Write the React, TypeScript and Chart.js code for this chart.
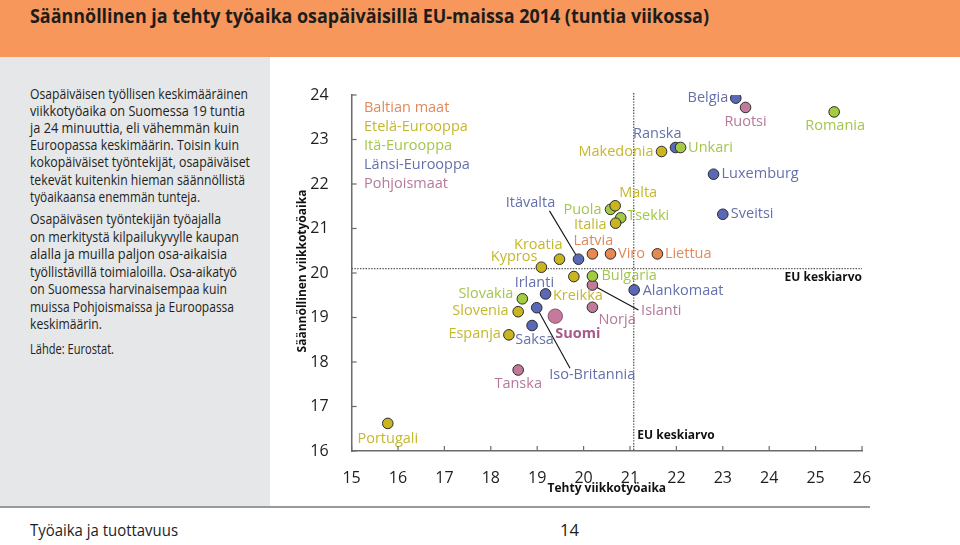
import React, { useEffect, useLayoutEffect, useRef } from "react";
import { Chart, registerables } from "chart.js";

Chart.register(...registerables);

const FONT = "'Open Sans', Lato, sans-serif";

// ---- Data (x = tehty viikkotyöaika, y = säännöllinen viikkotyöaika) ----
const groupLabels = ["Baltian maat", "Etelä-Eurooppa", "Itä-Eurooppa", "Länsi-Eurooppa", "Pohjoismaat"];

const balticNames = ["Latvia", "Viro", "Liettua"];
const balticActual = [20.19, 20.58, 21.59];
const balticRegular = [20.43, 20.43, 20.43];

const southNames = ["Makedonia", "Malta", "Italia", "Kroatia", "Kypros", "Kreikka", "Slovenia", "Espanja", "Portugali"];
const southActual = [21.68, 20.68, 20.69, 19.48, 19.09, 19.79, 18.59, 18.39, 15.78];
const southRegular = [22.73, 21.51, 21.12, 20.31, 20.13, 19.92, 19.13, 18.61, 16.62];

const eastNames = ["Romania", "Unkari", "Puola", "Tsekki", "Bulgaria", "Slovakia"];
const eastActual = [25.4, 22.09, 20.58, 20.8, 20.19, 18.68];
const eastRegular = [23.62, 22.82, 21.43, 21.24, 19.93, 19.42];

const westNames = ["Belgia", "Ranska", "Luxemburg", "Sveitsi", "Itävalta", "Alankomaat", "Irlanti", "Iso-Britannia", "Saksa"];
const westActual = [23.28, 21.98, 22.8, 23.0, 19.89, 21.09, 19.18, 18.99, 18.89];
const westRegular = [23.93, 22.82, 22.22, 21.32, 20.31, 19.62, 19.53, 19.22, 18.82];

const nordicNames = ["Ruotsi", "Islanti", "Norja", "Suomi", "Tanska"];
const nordicActual = [23.49, 20.19, 20.19, 19.39, 18.59];
const nordicRegular = [23.72, 19.73, 19.23, 19.03, 17.82];

const euAvgActual = 21.08;
const euAvgRegular = 20.1;
const euLabel = "EU keskiarvo";

const xTicks = [15, 16, 17, 18, 19, 20, 21, 22, 23, 24, 25, 26];
const yTicks = [16, 17, 18, 19, 20, 21, 22, 23, 24];

const xTitle = "Tehty viikkotyöaika";
const yTitle = "Säännöllinen viikkotyöaika";
const highlight = "Suomi";

// ---- Styles ----
const fills = ["#E8874F", "#C9B51F", "#A2CC41", "#5A68B8", "#C27A9A"];
const textColors = ["#E08A5C", "#C4B82C", "#A3C64E", "#6670AA", "#B5789A"];

type Align = "left" | "right" | "center";
// label offsets relative to the point [dx, dy, align]
const labelPos: Record<string, [number, number, Align]> = {
  Latvia: [1, -13, "center"],
  Viro: [7.5, 0.5, "left"],
  Liettua: [7.5, 0.5, "left"],
  Makedonia: [-8, 0, "right"],
  Malta: [23, -13, "center"],
  Italia: [-9, 1.5, "right"],
  Kroatia: [3, -14, "right"],
  Kypros: [-4, -10.5, "right"],
  Kreikka: [4, 19.5, "center"],
  Slovenia: [-9.5, -0.5, "right"],
  Espanja: [-8, -0.5, "right"],
  Portugali: [0, 15, "center"],
  Romania: [1, 13.5, "center"],
  Unkari: [7.5, 0, "left"],
  Puola: [-9, 0.5, "right"],
  Tsekki: [6.5, -1.5, "left"],
  Bulgaria: [9, -0.5, "left"],
  Slovakia: [-9, -5, "right"],
  Belgia: [-7.5, 0, "right"],
  Ranska: [6, -14, "right"],
  Luxemburg: [8, 0, "left"],
  Sveitsi: [8, 0, "left"],
  Itävalta: [-48, -56, "center"],
  Alankomaat: [8.5, 1, "left"],
  Irlanti: [8.5, -11.5, "right"],
  "Iso-Britannia": [55.5, 66.7, "center"],
  Saksa: [2.5, 14.7, "center"],
  Ruotsi: [0, 14.3, "center"],
  Islanti: [48.7, 26, "left"],
  Norja: [6, 12.7, "left"],
  Suomi: [0, 17.3, "left"],
  Tanska: [0, 14, "center"],
};
// leader lines: end point relative to the point
const leaders: Record<string, [number, number]> = {
  Itävalta: [-29, -48.3],
  Islanti: [46, 25],
  "Iso-Britannia": [33.3, 60.6],
};

const groups = [
  { names: balticNames, actual: balticActual, regular: balticRegular },
  { names: southNames, actual: southActual, regular: southRegular },
  { names: eastNames, actual: eastActual, regular: eastRegular },
  { names: westNames, actual: westActual, regular: westRegular },
  { names: nordicNames, actual: nordicActual, regular: nordicRegular },
];

const paraLines: [string, number][] = [
  ["Osapäiväisen työllisen keskimääräinen", 218],
  ["viikkotyöaika on Suomessa 19 tuntia", 215],
  ["ja 24 minuuttia, eli vähemmän kuin", 209],
  ["Euroopassa keskimäärin. Toisin kuin", 209],
  ["kokopäiväiset työntekijät, osapäiväiset", 220],
  ["tekevät kuitenkin hieman säännöllistä", 215],
  ["työaikaansa enemmän tunteja.", 170],
];
const paraLines2: [string, number][] = [
  ["Osapäiväsen työntekijän työajalla", 191],
  ["on merkitystä kilpailukyvylle kaupan", 209],
  ["alalla ja muilla paljon osa-aikaisia", 197],
  ["työllistävillä toimialoilla. Osa-aikatyö", 207],
  ["on Suomessa harvinaisempaa kuin", 197],
  ["muissa Pohjoismaissa ja Euroopassa", 204],
  ["keskimäärin.", 72],
];
const sourceLine: [string, number] = ["Lähde: Eurostat.", 84];
const titleText = "Säännöllinen ja tehty työaika osapäiväisillä EU-maissa 2014 (tuntia viikossa)";
const footerLeft = "Työaika ja tuottavuus";
const footerPage = "14";

function FitLine({ text, width, style }: { text: string; width: number; style: React.CSSProperties }) {
  const ref = useRef<HTMLSpanElement>(null);
  useLayoutEffect(() => {
    const el = ref.current;
    if (!el) return;
    el.style.transform = "none";
    const w = el.getBoundingClientRect().width;
    if (w > 0) el.style.transform = `scaleX(${width / w})`;
  }, [text, width]);
  return (
    <span
      ref={ref}
      style={{ ...style, position: "absolute", whiteSpace: "nowrap", transformOrigin: "left center", lineHeight: 1 }}
    >
      {text}
    </span>
  );
}

const overlayPlugin = {
  id: "overlay",
  beforeDatasetsDraw(chart: any) {
    const { ctx, chartArea, scales } = chart;
    const xs = scales.x;
    const ys = scales.y;
    ctx.save();
    ctx.strokeStyle = "#555";
    ctx.lineWidth = 1.3;
    ctx.setLineDash([1.4, 1.4]);
    const hy = ys.getPixelForValue(euAvgRegular);
    ctx.beginPath();
    ctx.moveTo(chartArea.left, hy);
    ctx.lineTo(chartArea.right, hy);
    ctx.stroke();
    const vx = xs.getPixelForValue(euAvgActual);
    ctx.beginPath();
    ctx.moveTo(vx, chartArea.top - 2);
    ctx.lineTo(vx, chartArea.bottom);
    ctx.stroke();
    ctx.setLineDash([]);
    // leader lines
    ctx.strokeStyle = "#111";
    ctx.lineWidth = 1.1;
    chart.data.datasets.forEach((ds: any, di: number) => {
      const meta = chart.getDatasetMeta(di);
      ds.data.forEach((d: any, i: number) => {
        const l = leaders[d.name];
        if (!l) return;
        const p = meta.data[i];
        ctx.beginPath();
        ctx.moveTo(p.x, p.y);
        ctx.lineTo(p.x + l[0], p.y + l[1]);
        ctx.stroke();
      });
    });
    ctx.restore();
  },
  afterDatasetsDraw(chart: any) {
    const { ctx, chartArea, scales } = chart;
    const xs = scales.x;
    const ys = scales.y;
    ctx.save();
    ctx.textBaseline = "middle";
    // point labels
    chart.data.datasets.forEach((ds: any, di: number) => {
      const meta = chart.getDatasetMeta(di);
      ds.data.forEach((d: any, i: number) => {
        const pos = labelPos[d.name] || [8, 0, "left"];
        const p = meta.data[i];
        const isHi = d.name === highlight;
        ctx.font = `${isHi ? "bold " : ""}14.5px ${FONT}`;
        ctx.fillStyle = isHi ? "#A85A88" : textColors[di];
        ctx.textAlign = pos[2];
        ctx.fillText(d.name, p.x + pos[0], p.y + pos[1]);
      });
    });
    // legend
    ctx.font = `14.5px ${FONT}`;
    ctx.textAlign = "left";
    groupLabels.forEach((g, i) => {
      ctx.fillStyle = textColors[i];
      ctx.fillText(g, chartArea.left + 12.4, chartArea.top + 13.3 + i * 19);
    });
    // EU labels
    ctx.font = `bold 12px ${FONT}`;
    ctx.fillStyle = "#111";
    ctx.textAlign = "right";
    ctx.fillText(euLabel, chartArea.right, ys.getPixelForValue(euAvgRegular) + 9.5);
    ctx.textAlign = "left";
    ctx.fillText(euLabel, xs.getPixelForValue(euAvgActual) + 3.6, chartArea.bottom - 15.5);
    // inward ticks
    ctx.strokeStyle = "#6b6b6b";
    ctx.lineWidth = 1.2;
    xTicks.forEach((t) => {
      const px = xs.getPixelForValue(t);
      ctx.beginPath();
      ctx.moveTo(px, chartArea.bottom);
      ctx.lineTo(px, chartArea.bottom - 5);
      ctx.stroke();
    });
    yTicks.forEach((t) => {
      const py = ys.getPixelForValue(t);
      ctx.beginPath();
      ctx.moveTo(chartArea.left, py);
      ctx.lineTo(chartArea.left + 5, py);
      ctx.stroke();
    });
    // axis titles
    ctx.fillStyle = "#111";
    ctx.font = `bold 12px ${FONT}`;
    ctx.textAlign = "center";
    ctx.fillText(xTitle, (chartArea.left + chartArea.right) / 2, chartArea.bottom + 37.5);
    ctx.translate(chartArea.left - 49, (chartArea.top + chartArea.bottom) / 2 - 2);
    ctx.rotate(-Math.PI / 2);
    ctx.fillText(yTitle, 0, 0);
    ctx.restore();
  },
};

function ChartCanvas() {
  const ref = useRef<HTMLCanvasElement>(null);
  useEffect(() => {
    const canvas = ref.current;
    if (!canvas) return;
    const datasets = groups.map((g, gi) => ({
      label: groupLabels[gi],
      data: g.names.map((n, i) => ({ x: g.actual[i], y: g.regular[i], name: n })),
      backgroundColor: g.names.map((n) => (n === highlight ? "#C47A9C" : fills[gi])),
      borderColor: g.names.map((n) => (n === highlight ? "#8E4E70" : "#2a2a2a")),
      borderWidth: 1,
      pointRadius: g.names.map((n) => (n === highlight ? 7.2 : 5.3)),
      pointHoverRadius: g.names.map((n) => (n === highlight ? 7.2 : 5.3)),
    }));
    const chart = new Chart(canvas, {
      type: "scatter",
      data: { datasets } as any,
      options: {
        animation: false,
        responsive: false,
        maintainAspectRatio: false,
        events: [],
        layout: { padding: { left: 280, top: 95, right: 98, bottom: 54 } },
        plugins: { legend: { display: false }, tooltip: { enabled: false } },
        scales: {
          x: {
            type: "linear",
            min: 15,
            max: 26,
            afterFit: (s: any) => {
              s.height = 40;
            },
            grid: { display: false },
            border: { display: true, color: "#6b6b6b", width: 1.5 },
            ticks: {
              stepSize: 1,
              autoSkip: false,
              maxRotation: 0,
              padding: 10,
              color: "#1e1e1e",
              font: { family: FONT, size: 16 },
            },
          },
          y: {
            type: "linear",
            min: 16,
            max: 24,
            afterFit: (s: any) => {
              s.width = 71.6;
            },
            grid: { display: false },
            border: { display: true, color: "#6b6b6b", width: 1.5 },
            ticks: {
              stepSize: 1,
              autoSkip: false,
              padding: 15,
              color: "#1e1e1e",
              font: { family: FONT, size: 16 },
            },
          },
        },
      } as any,
      plugins: [overlayPlugin],
    });
    return () => chart.destroy();
  }, []);
  return (
    <canvas
      ref={ref}
      width={960}
      height={545}
      style={{ position: "absolute", left: 0, top: 0, width: 960, height: 545, zIndex: 2 }}
    />
  );
}

export default function App() {
  const paraStyle: React.CSSProperties = { fontFamily: FONT, fontSize: 14.5, color: "#231f20" };
  return (
    <div style={{ position: "absolute", left: 0, top: 0, width: 960, height: 545, overflow: "hidden", background: "#fff" }}>
      <div style={{ position: "absolute", left: 0, top: 0, width: 960, height: 57, background: "#F7975B" }} />
      <div style={{ position: "absolute", left: 30, top: 7 }}>
        <FitLine
          text={titleText}
          width={679}
          style={{ left: 0, top: 0, fontFamily: "'Liberation Sans Narrow', 'Open Sans', sans-serif", fontWeight: 700, fontSize: 19, color: "#1d1d1b" }}
        />
      </div>
      <div style={{ position: "absolute", left: 0, top: 57, width: 270, height: 449, background: "#E6E7E9" }} />
      <div style={{ position: "absolute", left: 0, top: 505.5, width: 870, height: 2, background: "#9a9a9a" }} />
      {paraLines.map(([t, w], i) => (
        <FitLine key={"a" + i} text={t} width={w} style={{ ...paraStyle, left: 30, top: 87 + i * 17.1 }} />
      ))}
      {paraLines2.map(([t, w], i) => (
        <FitLine key={"b" + i} text={t} width={w} style={{ ...paraStyle, left: 30, top: 212 + i * 17.5 }} />
      ))}
      <FitLine text={sourceLine[0]} width={sourceLine[1]} style={{ ...paraStyle, left: 30, top: 342 }} />
      <FitLine
        text={footerLeft}
        width={148}
        style={{ left: 30, top: 521, fontFamily: FONT, fontSize: 17, color: "#1d1d1b" }}
      />
      <FitLine
        text={footerPage}
        width={19}
        style={{ left: 560, top: 521, fontFamily: FONT, fontSize: 17, color: "#1d1d1b" }}
      />
      <ChartCanvas />
    </div>
  );
}
